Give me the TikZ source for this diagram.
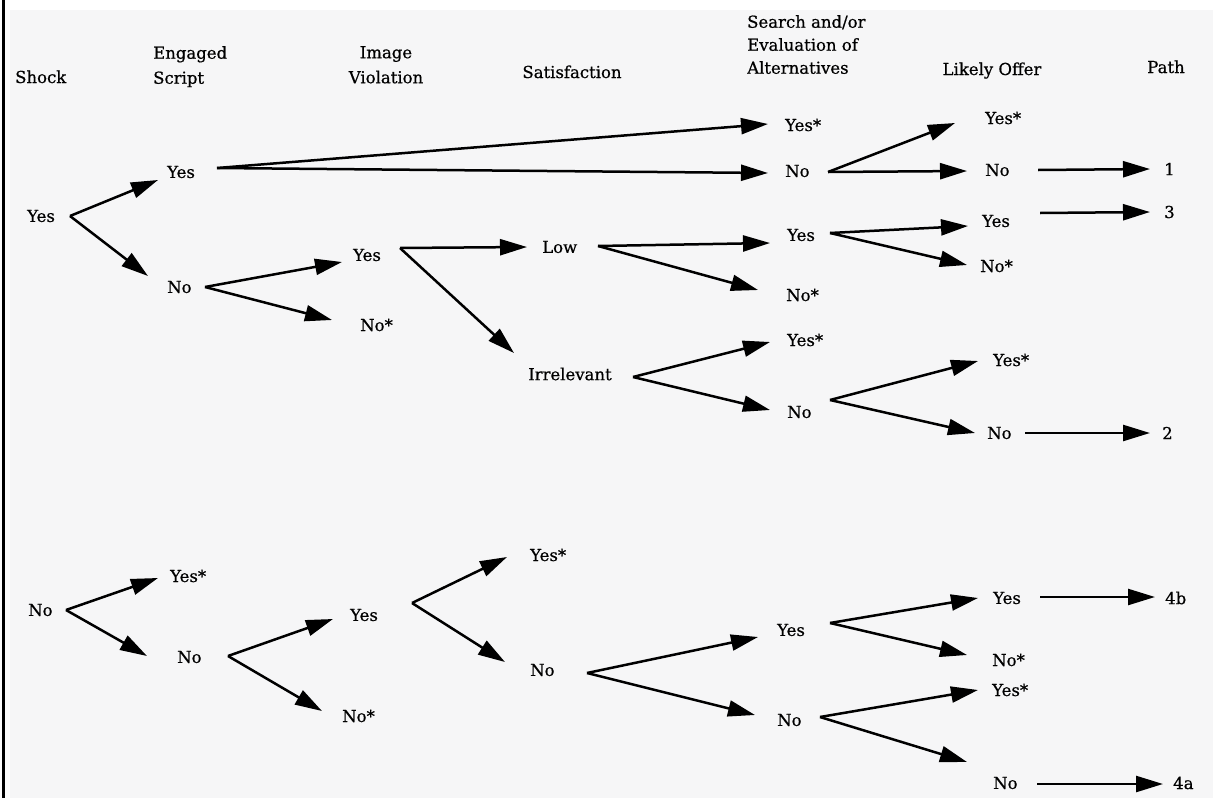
\documentclass[tikz,border=0pt]{standalone}
\usepackage{fontspec}
\setmainfont{DejaVu Serif}[FakeBold=0.6]
\usetikzlibrary{arrows.meta}
\definecolor{paper}{RGB}{246,246,247}
\begin{document}
\begin{tikzpicture}[x=1pt,y=-1pt,
  lbl/.style={anchor=west,inner sep=0pt,font=\fontsize{16.5}{19}\selectfont},
  hdr/.style={inner sep=0pt,font=\fontsize{16.5}{25}\selectfont},
  arr/.style={line width=2.5pt,-{Triangle[length=27pt,width=16pt]}}]
\useasboundingbox (0,0) rectangle (1213,798);
\fill[white] (0,0) rectangle (1213,798);
\fill[paper] (10,10) rectangle (1213,798);
\draw[line width=3pt] (3,0) -- (3,798);

% column headings
\node[hdr,anchor=base west] (hShock) at (15,83) {Shock};
\node[hdr,anchor=north west,align=left] (hScript) at (153,46) {Engaged\\Script};
\node[hdr,anchor=north,align=center] (hImage) at (386,46) {Image\\Violation};
\node[hdr,anchor=base] (hSat) at (572,78) {Satisfaction};
\node[hdr,anchor=north west,align=left,font=\fontsize{16.5}{23}\selectfont] (hSearch) at (747,15) {Search and/or\\Evaluation of\\Alternatives};
\node[hdr,anchor=base] (hOffer) at (992,75) {Likely Offer};
\node[hdr,anchor=base] (hPath) at (1166,73) {Path};

% upper tree: shock = yes
\node[lbl] (s1) at (27,216) {Yes};
\node[lbl] (e1) at (167,172) {Yes};
\node[lbl] (e2) at (167,287) {No};
\node[lbl] (i1) at (353,255) {Yes};
\node[lbl] (i2) at (360,325) {No*};
\node[lbl] (t1) at (542,247) {Low};
\node[lbl] (t2) at (528,374) {Irrelevant};
\node[lbl] (a1) at (785,125) {Yes*};
\node[lbl] (a2) at (785,171) {No};
\node[lbl] (a3) at (787,235) {Yes};
\node[lbl] (a4) at (786,295) {No*};
\node[lbl] (a5) at (787,340) {Yes*};
\node[lbl] (a6) at (787,412) {No};
\node[lbl] (o1) at (985,118) {Yes*};
\node[lbl] (o2) at (985,170) {No};
\node[lbl] (o3) at (982,221) {Yes};
\node[lbl] (o4) at (980,266) {No*};
\node[lbl] (o5) at (993,360) {Yes*};
\node[lbl] (o6) at (987,433) {No};
\node[lbl] (p1) at (1164,169) {1};
\node[lbl] (p3) at (1164,212) {3};
\node[lbl] (p2) at (1162,433) {2};

% lower tree: shock = no
\node[lbl] (s2) at (28,610) {No};
\node[lbl] (e3) at (170,576) {Yes*};
\node[lbl] (e4) at (177,657) {No};
\node[lbl] (i3) at (350,615) {Yes};
\node[lbl] (i4) at (342,716) {No*};
\node[lbl] (t3) at (530,555) {Yes*};
\node[lbl] (t4) at (530,670) {No};
\node[lbl] (a7) at (777,630) {Yes};
\node[lbl] (a8) at (777,720) {No};
\node[lbl] (o7) at (993,598) {Yes};
\node[lbl] (o8) at (992,660) {No*};
\node[lbl] (o9) at (992,690) {Yes*};
\node[lbl] (o10) at (993,783) {No};
\node[lbl] (p4) at (1165,598) {4b};
\node[lbl] (p5) at (1173,783) {4a};

% upper branches
\draw[arr] ([shift={(43,0)}]s1.west) -- ([shift={(-9,8)}]e1.west);
\draw[arr] ([shift={(43,0)}]s1.west) -- ([shift={(-19,-11)}]e2.west);
\draw[arr] ([shift={(50,-4)}]e1.west) -- ([shift={(-17,-1)}]a1.west);
\draw[arr] ([shift={(50,-4)}]e1.west) -- ([shift={(-17,2)}]a2.west);
\draw[arr] ([shift={(38,0)}]e2.west) -- ([shift={(-11,7)}]i1.west);
\draw[arr] ([shift={(38,0)}]e2.west) -- ([shift={(-28,-5)}]i2.west);
\draw[arr] ([shift={(47,-7)}]i1.west) -- ([shift={(-15,0)}]t1.west);
\draw[arr] ([shift={(47,-7)}]i1.west) -- ([shift={(-14,-21)}]t2.west);
\draw[arr] ([shift={(56,-1)}]t1.west) -- ([shift={(-17,8)}]a3.west);
\draw[arr] ([shift={(56,-1)}]t1.west) -- ([shift={(-28,-5)}]a4.west);
\draw[arr] ([shift={(105,3)}]t2.west) -- ([shift={(-17,2)}]a5.west);
\draw[arr] ([shift={(105,3)}]t2.west) -- ([shift={(-17,-2)}]a6.west);
\draw[arr] ([shift={(43,1)}]a2.west) -- ([shift={(-30,5)}]o1.west);
\draw[arr] ([shift={(43,1)}]a2.west) -- ([shift={(-18,1)}]o2.west);
\draw[arr] ([shift={(53,0)}]o2.west) -- ([shift={(-14,0)}]p1.west);
\draw[arr] ([shift={(43,-2)}]a3.west) -- ([shift={(-14,5)}]o3.west);
\draw[arr] ([shift={(43,-2)}]a3.west) -- ([shift={(-13,-1)}]o4.west);
\draw[arr] ([shift={(58,-8)}]o3.west) -- ([shift={(-14,0)}]p3.west);
\draw[arr] ([shift={(43,-12)}]a6.west) -- ([shift={(-15,1)}]o5.west);
\draw[arr] ([shift={(43,-12)}]a6.west) -- ([shift={(-12,0)}]o6.west);
\draw[arr] ([shift={(38,0)}]o6.west) -- ([shift={(-12,0)}]p2.west);

% lower branches
\draw[arr] ([shift={(38,0)}]s2.west) -- ([shift={(-12,2)}]e3.west);
\draw[arr] ([shift={(38,0)}]s2.west) -- ([shift={(-30,-1)}]e4.west);
\draw[arr] ([shift={(51,-1)}]e4.west) -- ([shift={(-17,4)}]i3.west);
\draw[arr] ([shift={(51,-1)}]e4.west) -- ([shift={(-20,-5)}]i4.west);
\draw[arr] ([shift={(62,-12)}]i3.west) -- ([shift={(-23,2)}]t3.west);
\draw[arr] ([shift={(62,-12)}]i3.west) -- ([shift={(-25,-8)}]t4.west);
\draw[arr] ([shift={(57,3)}]t4.west) -- ([shift={(-19,7)}]a7.west);
\draw[arr] ([shift={(57,3)}]t4.west) -- ([shift={(-22,-5)}]a8.west);
\draw[arr] ([shift={(53,-7)}]a7.west) -- ([shift={(-15,0)}]o7.west);
\draw[arr] ([shift={(53,-7)}]a7.west) -- ([shift={(-25,-5)}]o8.west);
\draw[arr] ([shift={(47,-1)}]o7.west) -- ([shift={(-10,-1)}]p4.west);
\draw[arr] ([shift={(43,-3)}]a8.west) -- ([shift={(-14,0)}]o9.west);
\draw[arr] ([shift={(43,-3)}]a8.west) -- ([shift={(-26,-21)}]o10.west);
\draw[arr] ([shift={(44,1)}]o10.west) -- ([shift={(-10,1)}]p5.west);
\end{tikzpicture}
\end{document}
